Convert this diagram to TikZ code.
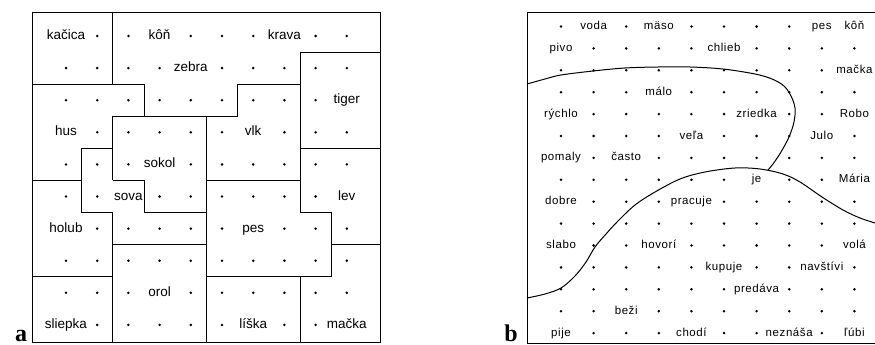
\documentclass[tikz,border=0pt]{standalone}
\usepackage{fontspec}
\setmainfont{Liberation Sans}
\newfontfamily\tagfont{Liberation Serif}
\newfontfamily\mapfont[LetterSpace=5]{Liberation Sans}

\begin{document}
\begin{tikzpicture}[x=1pt,y=-1pt,
  border/.style={line width=1pt,line join=miter},
  region/.style={line width=0.9pt,line join=miter},
  curve/.style={line width=1pt},
  dotmark/.style={circle,fill,inner sep=0pt,minimum size=2.8pt},
  aword/.style={anchor=base,inner sep=0pt,font=\fontsize{13.5}{15}\selectfont},
  bword/.style={anchor=base,inner sep=0pt,font=\mapfont\fontsize{11.5}{13}\selectfont},
  paneltag/.style={anchor=base,inner sep=0pt,font=\tagfont\bfseries\fontsize{24}{26}\selectfont}]
\useasboundingbox (0,0) rectangle (875,345);
\def\dotsym{.}

% ---------- panel a: word map with region borders ----------
\foreach \row [count=\r] in {
  {kačica,.,.,kôň,.,.,.,krava,.,.},
  {.,.,.,.,zebra,.,.,.,.,.},
  {.,.,.,.,.,.,.,.,.,tiger},
  {hus,.,.,.,.,.,vlk,.,.,.},
  {.,.,.,sokol,.,.,.,.,.,.},
  {.,.,sova,.,.,.,.,.,.,lev},
  {holub,.,.,.,.,.,pes,.,.,.},
  {.,.,.,.,.,.,.,.,.,.},
  {.,.,.,orol,.,.,.,.,.,.},
  {sliepka,.,.,.,.,.,líška,.,.,mačka}} {
  \foreach \w [count=\c] in \row {
    \ifx\w\dotsym
      \node[dotmark] (a-\c-\r) at ({66+31.2*(\c-1)},{36+32.1*(\r-1)}) {};
    \else
      \node[aword] (a-\c-\r) at ({66+31.2*(\c-1)},{39.5+32.1*(\r-1)}) {\w};
    \fi
  }
}

\def\XA{81.6}\def\XB{112.8}\def\XC{144}\def\XE{206.4}\def\XF{237.6}\def\XH{300}\def\XI{331.2}
\def\YA{52}\def\YB{84}\def\YC{116.2}\def\YD{148.3}\def\YE{180.4}\def\YF{212.5}\def\YG{244.6}\def\YH{276.7}
\def\L{32}\def\R{380}\def\T{13}\def\B{342}

\draw[border] (\L,\T) rectangle (\R,\B);
\draw[region] (\XB,\T) -- (\XB,\YB);
\draw[region] (\L,\YB) -- (\XC,\YB) -- (\XC,\YC);
\draw[region] (\XB,\YE) -- (\XB,\YC) -- (\XF,\YC) -- (\XF,\YB) -- (\XH,\YB);
\draw[region] (\XH,\YA) -- (\R,\YA);
\draw[region] (\XH,\YA) -- (\XH,\YF) -- (\XI,\YF) -- (\XI,\YH) -- (\XE,\YH);
\draw[region] (\XH,\YD) -- (\R,\YD);
\draw[region] (\XI,\YG) -- (\R,\YG);
\draw[region] (\XH,\YH) -- (\XH,\B);
\draw[region] (\XE,\YC) -- (\XE,\B);
\draw[region] (\XE,\YE) -- (\XH,\YE);
\draw[region] (\L,\YE) -- (\XA,\YE);
\draw[region] (\XB,\YD) -- (\XA,\YD) -- (\XA,\YF) -- (\XB,\YF) -- (\XB,\B);
\draw[region] (\XB,\YE) -- (\XC,\YE) -- (\XC,\YF) -- (\XE,\YF);
\draw[region] (\XB,\YG) -- (\XE,\YG);
\draw[region] (\L,\YH) -- (\XB,\YH);

\node[paneltag] (tag-a) at (21,341) {a};

% ---------- panel b: word map with cluster curves ----------
\foreach \row [count=\r] in {
  {.,voda,.,mäso,.,.,.,.,pes,kôň},
  {pivo,.,.,.,.,chlieb,.,.,.,.},
  {.,.,.,.,.,.,.,.,.,mačka},
  {.,.,.,málo,.,.,.,.,.,.},
  {rýchlo,.,.,.,.,.,zriedka,.,.,Robo},
  {.,.,.,.,veľa,.,.,.,Julo,.},
  {pomaly,.,často,.,.,.,.,.,.,.},
  {.,.,.,.,.,.,je,.,.,Mária},
  {dobre,.,.,.,pracuje,.,.,.,.,.},
  {.,.,.,.,.,.,.,.,.,.},
  {slabo,.,.,hovorí,.,.,.,.,.,volá},
  {.,.,.,.,.,kupuje,.,.,navštívi,.},
  {.,.,.,.,.,.,predáva,.,.,.},
  {.,.,beži,.,.,.,.,.,.,.},
  {pije,.,.,.,chodí,.,.,neznáša,.,ľúbi}} {
  \foreach \w [count=\c] in \row {
    \ifx\w\dotsym
      \node[dotmark] (b-\c-\r) at ({561+32.6*(\c-1)},{26.5+21.9*(\r-1)}) {};
    \else
      \node[bword] (b-\c-\r) at ({561+32.6*(\c-1)},{29.5+21.9*(\r-1)}) {\w};
    \fi
  }
}

\draw[border] (875,13) -- (527,13) -- (527,343) -- (875,343);

\draw[curve] plot[smooth,tension=0.55] coordinates {
  (527,84) (545,79) (561,75) (593,71) (625,68) (658,67) (690,67)
  (723,69) (755,74) (772,79) (784,86) (791,96) (795,108) (794,122)
  (789,137) (781,152) (773,164) (768,170)};
\draw[curve] plot[smooth,tension=0.55] coordinates {
  (527,298) (545,294) (561,288) (575,276) (586,262) (595,247)
  (606,234) (618,221) (635,205) (655,192) (680,179) (705,172)
  (735,168) (760,169) (783,174) (800,182) (822,197) (843,210)
  (860,218) (875,223)};

\node[paneltag] (tag-b) at (511,341) {b};
\end{tikzpicture}
\end{document}
